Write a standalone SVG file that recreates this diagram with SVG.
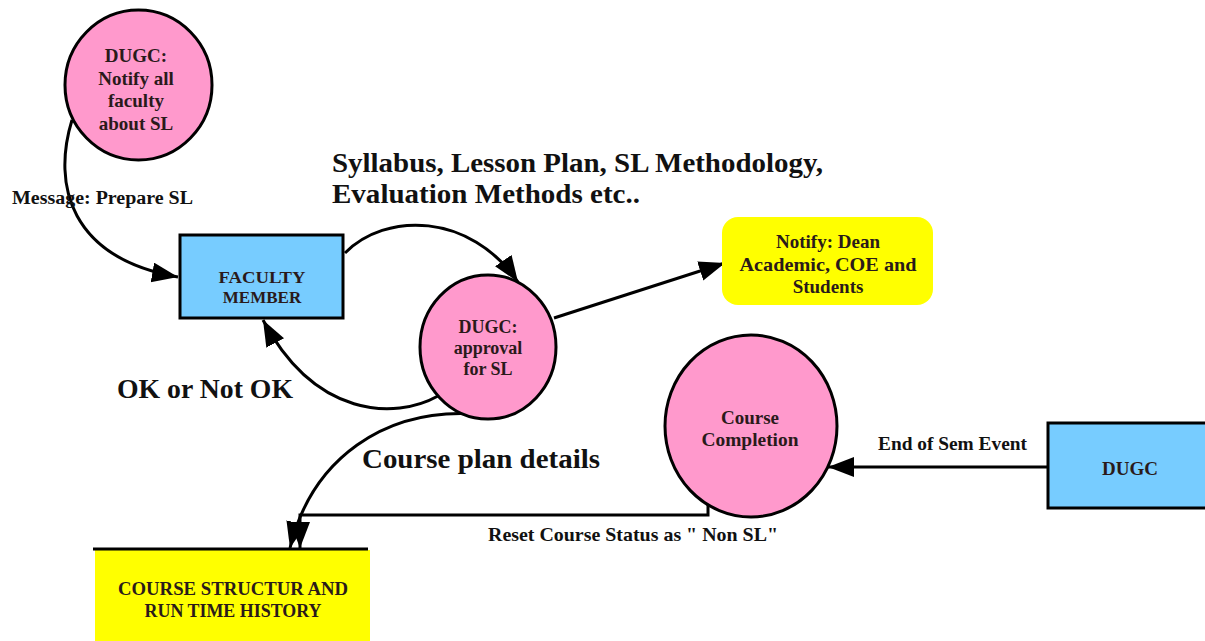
<svg xmlns="http://www.w3.org/2000/svg" width="1205" height="641" viewBox="0 0 1205 641">
<style>
.bg{fill:#ffffff}
.proc{fill:#ff99cc;stroke:#000;stroke-width:3}
.ent{fill:#77ccff;stroke:#000;stroke-width:3}
.note{fill:#ffff00}
.store{fill:#ffff00}
.conn{fill:none;stroke:#000;stroke-width:3;stroke-linecap:butt}
.nt{font-family:"Liberation Serif","Times New Roman",serif;font-weight:bold;fill:#2a1a1a;text-anchor:middle}
.lbl{font-family:"Liberation Serif","Times New Roman",serif;font-weight:bold;fill:#111}
</style>
<defs>
<marker id="arr" markerUnits="userSpaceOnUse" markerWidth="28" markerHeight="22" refX="26" refY="10" orient="auto">
<path d="M0,0 L26,10 L0,20 z" fill="#000"/>
</marker>
</defs>
<rect class="bg" x="0" y="0" width="1205" height="641"/>

<g id="connectors">
<path class="conn" d="M72,120 C52,185 70,258 178,277" marker-end="url(#arr)"/>
<path class="conn" d="M345,253 C385,212 470,212 518,282" marker-end="url(#arr)"/>
<path class="conn" d="M554,318 L725,263" marker-end="url(#arr)"/>
<path class="conn" d="M438,396 C395,420 315,418 263,320" marker-end="url(#arr)"/>
<path class="conn" d="M476,414 C385,408 312,458 290,548" marker-end="url(#arr)"/>
<path class="conn" d="M708,505 L708,515 L300,515 L300,548" marker-end="url(#arr)"/>
<path class="conn" d="M1048,467 L828,467" marker-end="url(#arr)"/>
</g>

<g id="labels">
<text class="lbl" x="12" y="204" font-size="18" textLength="181" lengthAdjust="spacingAndGlyphs">Message: Prepare SL</text>
<text class="lbl" x="332" y="172" font-size="28" textLength="491" lengthAdjust="spacingAndGlyphs">Syllabus, Lesson Plan, SL Methodology,</text>
<text class="lbl" x="332" y="203" font-size="28" textLength="308" lengthAdjust="spacingAndGlyphs">Evaluation Methods etc..</text>
<text class="lbl" x="117" y="398" font-size="27" textLength="176" lengthAdjust="spacingAndGlyphs">OK or Not OK</text>
<text class="lbl" x="362" y="468" font-size="28" textLength="238" lengthAdjust="spacingAndGlyphs">Course plan details</text>
<text class="lbl" x="488" y="541" font-size="19" textLength="290" lengthAdjust="spacingAndGlyphs">Reset Course Status as " Non SL"</text>
<text class="lbl" x="878" y="450" font-size="18" textLength="149" lengthAdjust="spacingAndGlyphs">End of Sem Event</text>
</g>

<g id="node-notify-all">
<ellipse class="proc" cx="138.5" cy="85" rx="73.5" ry="75"/>
<text class="nt" x="136" y="62" font-size="19">DUGC:</text>
<text class="nt" x="136" y="85" font-size="19">Notify all</text>
<text class="nt" x="136" y="107" font-size="19">faculty</text>
<text class="nt" x="136" y="130" font-size="19">about SL</text>
</g>

<g id="node-faculty">
<rect class="ent" x="180" y="235" width="163" height="83"/>
<text class="nt" x="262" y="283" font-size="17" textLength="87" lengthAdjust="spacingAndGlyphs">FACULTY</text>
<text class="nt" x="262" y="303" font-size="17">MEMBER</text>
</g>

<g id="node-approval">
<ellipse class="proc" cx="488" cy="347" rx="68" ry="72"/>
<text class="nt" x="488" y="333" font-size="18">DUGC:</text>
<text class="nt" x="488" y="354" font-size="18">approval</text>
<text class="nt" x="488" y="375" font-size="18">for SL</text>
</g>

<g id="node-notify-dean">
<rect class="note" x="722" y="217" width="211" height="88" rx="16" ry="16"/>
<text class="nt" x="828" y="248" font-size="19">Notify: Dean</text>
<text class="nt" x="828" y="271" font-size="19" textLength="177" lengthAdjust="spacingAndGlyphs">Academic, COE and</text>
<text class="nt" x="828" y="293" font-size="19">Students</text>
</g>

<g id="node-completion">
<ellipse class="proc" cx="751" cy="426" rx="86" ry="91"/>
<text class="nt" x="750" y="424" font-size="19">Course</text>
<text class="nt" x="750" y="446" font-size="19" textLength="97" lengthAdjust="spacingAndGlyphs">Completion</text>
</g>

<g id="node-dugc">
<rect class="ent" x="1048" y="423" width="170" height="85"/>
<text class="nt" x="1130" y="475" font-size="19" textLength="56" lengthAdjust="spacingAndGlyphs">DUGC</text>
</g>

<g id="node-store">
<rect class="store" x="95" y="550" width="275" height="95"/>
<line x1="93" y1="549" x2="368" y2="549" stroke="#000" stroke-width="3"/>
<text class="nt" x="233" y="595" font-size="19" textLength="230" lengthAdjust="spacingAndGlyphs">COURSE STRUCTUR AND</text>
<text class="nt" x="233" y="617" font-size="19" textLength="177" lengthAdjust="spacingAndGlyphs">RUN TIME HISTORY</text>
</g>
</svg>
